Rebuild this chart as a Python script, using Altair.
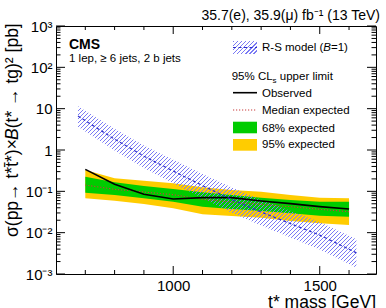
import altair as alt
import pandas as pd

# ---------------- data ----------------
mass = [700, 800, 900, 1000, 1100, 1200, 1300, 1400, 1500, 1600]
observed = [0.340, 0.148, 0.0846, 0.0653, 0.0703, 0.0703, 0.0584, 0.0503, 0.0426, 0.0374]
median_exp = [0.142, 0.112, 0.0964, 0.0830, 0.0640, 0.0552, 0.0484, 0.0426, 0.0367, 0.0322]
exp68_lo = [0.0929, 0.0815, 0.0677, 0.0562, 0.0426, 0.0374, 0.0334, 0.0294, 0.0258, 0.0244]
exp68_hi = [0.226, 0.165, 0.135, 0.114, 0.0946, 0.0815, 0.0703, 0.0617, 0.0562, 0.0562]
exp95_lo = [0.0677, 0.0594, 0.0494, 0.0388, 0.0278, 0.0253, 0.0231, 0.0191, 0.0168, 0.0153]
exp95_hi = [0.328, 0.206, 0.181, 0.156, 0.125, 0.108, 0.0982, 0.0815, 0.0703, 0.0677]

rs_mass = [675, 700, 800, 900, 1000, 1100, 1200, 1300, 1400, 1500, 1600, 1625]
rs_xsec = [6.61, 5.13, 1.82, 0.708, 0.309, 0.138, 0.0631, 0.0316, 0.0166, 0.00871, 0.00398, 0.00324]
rs_lo = [3.63, 2.80, 0.970, 0.368, 0.157, 0.0684, 0.0305, 0.0149, 0.00766, 0.00392, 0.00175, 0.00141]
rs_hi = [11.5, 8.95, 3.25, 1.29, 0.577, 0.263, 0.123, 0.0630, 0.0338, 0.0181, 0.00847, 0.00692]

x_major = [1000, 1500]
x_minor = [700, 800, 900, 1100, 1200, 1300, 1400, 1600]
y_major = [0.001, 0.01, 0.1, 1, 10, 100, 1000]
y_minor = [k * 10.0 ** n for n in range(-3, 3) for k in range(2, 10)]

# ---------------- style ----------------
W, H = 320, 248
FONT = "Liberation Sans"
XS = alt.Scale(domain=[600, 1692], nice=False, zero=False)
YS = alt.Scale(type="log", domain=[0.001, 1000], nice=False)

AW = {'.': .278, ',': .278, '(': .333, ')': .333, ' ': .278, 'e': .556, 'μ': .576, 'f': .278,
      'b': .556, 'T': .611, 'V': .667, '⁻': .333, '¹': .333, 'R': .722, '-': .333, 'S': .667,
      'm': .833, 'o': .556, 'd': .556, 'l': .222, 'B': .667, '=': .584, '%': .889, 'C': .722,
      'L': .556, 's': .5, 'u': .556, 'p': .556, 'r': .333, 'i': .222, 't': .278, 'σ': .571,
      '→': 1.0, '*': .389, '×': .584, 'g': .556, '²': .333, '[': .278, ']': .278, '\u0304': 0.0}


def tw(s, size):
    return sum(AW.get(c, 0.556) for c in s) * size


def hatch(w, h, period, color, duty=0.35):
    a, b = 1.0, h / w
    k = (a + b) / (a * a + b * b)
    x2, y2 = k * a, k * b
    n2 = x2 * x2 + y2 * y2
    mag = ((x2 / (w * n2)) ** 2 + (y2 / (h * n2)) ** 2) ** 0.5
    n = max(1, int(round(1.0 / (mag * period))))
    clear = "rgba(255,255,255,0)"
    stops = []
    for i in range(n):
        o0 = i / n
        o1 = (i + duty) / n
        o2 = (i + 1) / n
        stops += [alt.GradientStop(color=color, offset=o0),
                  alt.GradientStop(color=color, offset=o1),
                  alt.GradientStop(color=clear, offset=o1),
                  alt.GradientStop(color=clear, offset=o2)]
    return alt.LinearGradient(gradient="linear", stops=stops, x1=0, y1=0, x2=x2, y2=y2)


HATCH_COL = "#7a7af4"
RS_LINE = "#2d2dcc"
MED_COL = "#c83a3a"
DUMMY = pd.DataFrame({"d": [0]})

exp = pd.DataFrame({"mass": mass, "obs": observed, "med": median_exp,
                    "g_lo": exp68_lo, "g_hi": exp68_hi, "y_lo": exp95_lo, "y_hi": exp95_hi})
rs = pd.DataFrame({"mass": rs_mass, "xs": rs_xsec, "lo": rs_lo, "hi": rs_hi})

ylabel_expr = ("datum.value >= 999 ? '10³' : datum.value >= 99 ? '10²' : datum.value >= 9 ? '10' : "
               "datum.value >= 0.9 ? '1' : datum.value >= 0.09 ? '10⁻¹' : datum.value >= 0.009 ? '10⁻²' : '10⁻³'")

X_AXIS = alt.Axis(values=x_major, format="d", labelFont=FONT, labelFontSize=15, labelColor="black",
                  ticks=False, tickSize=0, domain=False, grid=False, title=None, labelPadding=4)
Y_AXIS = alt.Axis(values=y_major, labelExpr=ylabel_expr, labelFont=FONT, labelFontSize=15,
                  labelColor="black", ticks=False, tickSize=0, domain=False, grid=False, title=None,
                  labelPadding=4)


def X(field):
    return alt.X(field, scale=XS, axis=X_AXIS)


def Y(field):
    return alt.Y(field, scale=YS, axis=Y_AXIS)


yellow = alt.Chart(exp).mark_area(color="#ffcc00", opacity=1).encode(
    x=X("mass:Q"), y=Y("y_lo:Q"), y2="y_hi:Q")
green = alt.Chart(exp).mark_area(color="#00cc00", opacity=1).encode(
    x=X("mass:Q"), y=Y("g_lo:Q"), y2="g_hi:Q")
rs_band = alt.Chart(rs).mark_area(color=hatch(278, 162, 2.83, HATCH_COL), opacity=1).encode(
    x=X("mass:Q"), y=Y("lo:Q"), y2="hi:Q")
median = alt.Chart(exp).mark_line(color=MED_COL, strokeDash=[1.2, 1.8], strokeWidth=1.1).encode(
    x=X("mass:Q"), y=Y("med:Q"))
obs = alt.Chart(exp).mark_line(color="black", strokeWidth=1.6).encode(
    x=X("mass:Q"), y=Y("obs:Q"))
rs_line = alt.Chart(rs).mark_line(color=RS_LINE, strokeDash=[3, 2.5], strokeWidth=1.2).encode(
    x=X("mass:Q"), y=Y("xs:Q"))


def yticks(vals, length, right):
    x0 = W if right else 0
    x1 = W - length if right else length
    return alt.Chart(pd.DataFrame({"v": vals})).mark_rule(color="black", strokeWidth=1).encode(
        y=Y("v:Q"), x=alt.value(x0), x2=alt.value(x1))


def xticks(vals, length, top):
    y0 = 0 if top else H
    y1 = length if top else H - length
    return alt.Chart(pd.DataFrame({"v": vals})).mark_rule(color="black", strokeWidth=1).encode(
        x=X("v:Q"), y=alt.value(y0), y2=alt.value(y1))


ticks = [yticks(y_major, 9, False), yticks(y_major, 9, True),
         yticks(y_minor, 4.5, False), yticks(y_minor, 4.5, True),
         xticks(x_major, 8, False), xticks(x_major, 8, True),
         xticks(x_minor, 4, False), xticks(x_minor, 4, True)]


def txt(s, x, y, size, align="left", baseline="alphabetic", weight="normal", style="normal", angle=0):
    return alt.Chart(DUMMY).mark_text(text=s, align=align, baseline=baseline, font=FONT,
                                      fontSize=size, fontWeight=weight, fontStyle=style,
                                      angle=angle, color="black").encode(x=alt.value(x), y=alt.value(y))


def box(x0, x1, y0, y1, fill):
    return alt.Chart(DUMMY).mark_rect(color=fill, opacity=1).encode(
        x=alt.value(x0), x2=alt.value(x1), y=alt.value(y0), y2=alt.value(y1))


def hline(x0, x1, y, color, width, dash=None):
    kw = dict(color=color, strokeWidth=width)
    if dash:
        kw["strokeDash"] = dash
    return alt.Chart(DUMMY).mark_rule(**kw).encode(x=alt.value(x0), x2=alt.value(x1), y=alt.value(y))


texts = []
# y axis title (rotated, built from pieces to get the italic B)
TS = 17.5
p1, p2, p3 = "σ(pp→ t*t\u0304*)×", "B", "(t* → tg)² [pb]"
yb = 211
texts.append(txt(p1, -38, yb, TS, angle=270))
texts.append(txt(p2, -38, yb - tw(p1, TS), TS, style="italic", angle=270))
texts.append(txt(p3, -38, yb - tw(p1, TS) - tw(p2, TS), TS, angle=270))
# x axis title
texts.append(txt("t* mass [GeV]", 320, 282, TS, align="right"))
# lumi label
texts.append(txt("35.7(e), 35.9(μ) fb⁻¹ (13 TeV)", 324, -6.5, 14, align="right"))
# CMS label
texts.append(txt("CMS", 13, 23.3, 14, weight="bold"))
texts.append(txt("1 lep, ≥ 6 jets, 2 b jets", 13, 35.7, 11.5))

# legend
LS = 11.5
LX0, LX1, TX = 177, 201, 206
cl_x = 175.7 + tw("95% CL", LS)
legend = [
    box(LX0, LX1, 15, 28, hatch(24, 13, 2.83, HATCH_COL)),
    hline(LX0, LX1, 21.5, RS_LINE, 1.2, [3, 2.5]),
    txt("R-S model (", TX, 24.5, LS),
    txt("B", TX + tw("R-S model (", LS), 24.5, LS, style="italic"),
    txt("=1)", TX + tw("R-S model (", LS) + tw("B", LS), 24.5, LS),
    txt("95% CL", 175.7, 53.5, LS),
    txt("s", cl_x, 56.5, 8),
    txt("upper limit", cl_x + tw("s", 8) + tw(" ", LS), 53.5, LS),
    hline(LX0, LX1, 66.7, "black", 1.6),
    txt("Observed", TX, 70.5, LS),
    hline(LX0, LX1, 84, MED_COL, 1.1, [1.2, 1.8]),
    txt("Median expected", TX, 88, LS),
    box(LX0, LX1, 95.7, 107.3, "#00cc00"),
    txt("68% expected", TX, 105.7, LS),
    box(LX0, LX1, 113, 124.7, "#ffcc00"),
    txt("95% expected", TX, 122.3, LS),
]

chart = alt.layer(yellow, green, rs_band, median, obs, rs_line, *ticks, *texts, *legend).properties(
    width=W, height=H,
    padding={"left": 56, "top": 26, "right": 10, "bottom": 34},
    autosize=alt.AutoSizeParams(type="none"),
    background="white",
).configure_view(stroke="black", strokeWidth=1).configure_axis(grid=False)

chart.save("out.html", embed_options={"renderer": "svg", "actions": False})
